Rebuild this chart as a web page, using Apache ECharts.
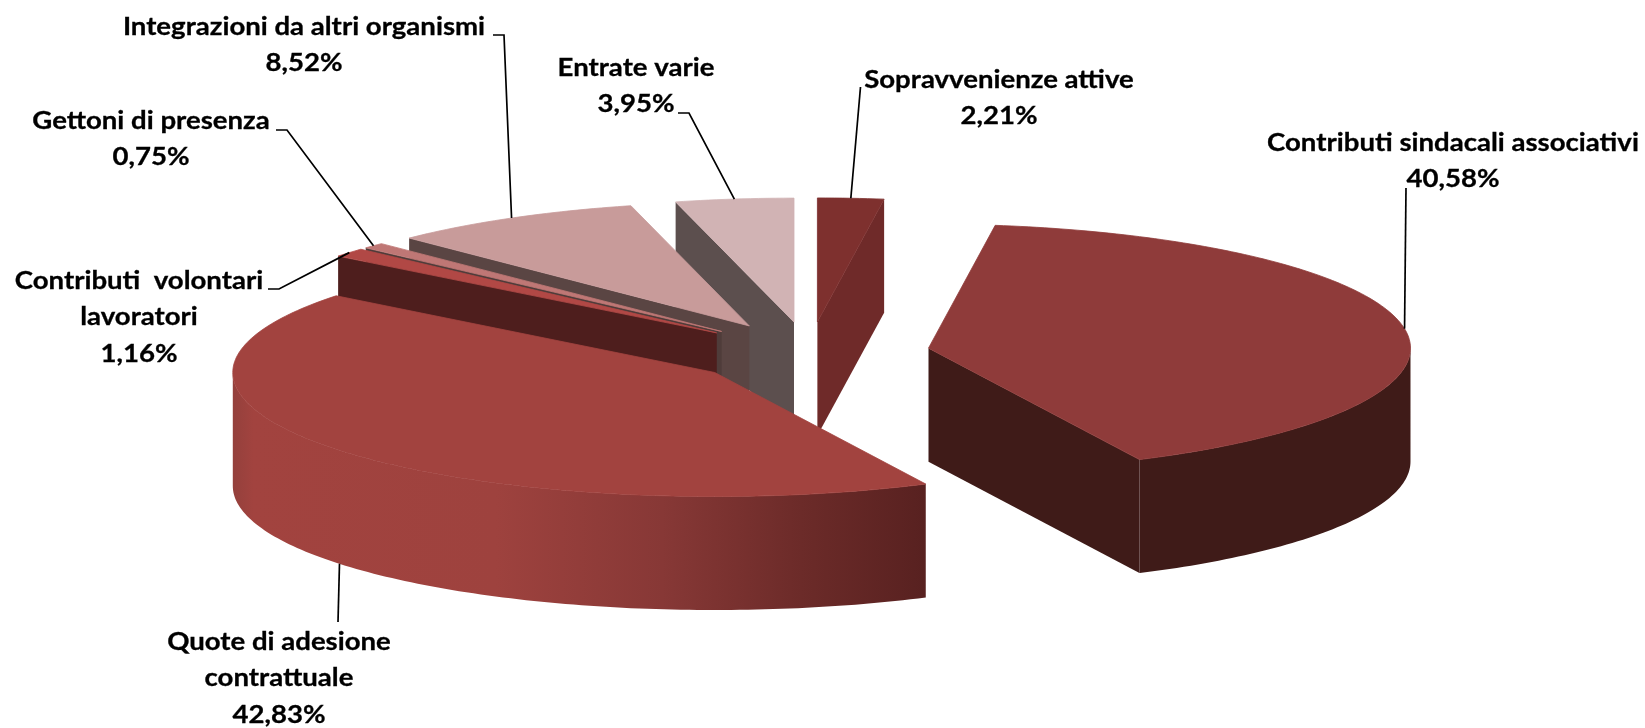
<!DOCTYPE html>
<html>
<head>
<meta charset="utf-8">
<style>html,body{margin:0;padding:0;background:#fff}#c{width:1645px;height:728px}</style>
<script src="https://cdn.jsdelivr.net/npm/echarts@6/dist/echarts.min.js"></script>
</head>
<body>
<div id="c"></div>
<script>
// Data, clockwise from 12 o'clock
const categories = ['Sopravvenienze attive','Contributi sindacali associativi','Quote di adesione\ncontrattuale','Contributi  volontari\nlavoratori','Gettoni di presenza','Integrazioni da altri organismi','Entrate varie'];
const values = [2.21, 40.58, 42.83, 1.16, 0.75, 8.52, 3.95];

// Styling
const topColors = ['#7E302E','#8F3B3A','#A2433F','#B14845','#BF7775','#C89B9A','#D1B3B4'];
const wallColors = ['#6F2A29','#3F1B18','#4E1E1D','#4E1E1D','#4F3C3A','#5A4543','#5C4F4E'];
const drawOrder = [1, 7, 6, 5, 4, 3, 2];
const quoteGradient = [[0,'#94403C'],[0.03,'#A2433F'],[0.38,'#9E423E'],[0.62,'#873836'],[0.82,'#6C2B29'],[1,'#582120']];

// Label layout: text centre x, first-line centre y, then leader bend points
const labelCenterX = [999, 1453, 279, 139, 151, 304, 636];
const labelFirstY = [80, 143, 642, 281, 121, 27, 68];
const leaderBends = [
  [[860.5,87]],
  [[1406,188]],
  [[338,622]],
  [[279,289],[268,289]],
  [[287,130],[276,130]],
  [[504,35],[493,35]],
  [[689,113],[678,113]]
];

// Projection of the exploded 3D pie
const CX = 809, CY = 353, RX = 482, RY = 124, DEPTH = 113.5, EXPLODE = 0.251;
const LINE_H = 36.5, TEXT_STRETCH = 1.125;
const total = values.reduce((a,b)=>a+b,0);
const rad = d => d*Math.PI/180;
const rim = (a,cx,cy) => [cx+Math.sin(rad(a))*RX, cy-Math.cos(rad(a))*RY];

function renderSlice(params, api){
  const i = params.dataIndex;
  let start = 0;
  for(let k=0;k<i;k++) start += values[k]/total*360;
  const end = start + api.value(1)/total*360;
  const mid = (start+end)/2;
  const cx = CX+Math.sin(rad(mid))*RX*EXPLODE;
  const cy = CY-Math.cos(rad(mid))*RY*EXPLODE;
  const z = drawOrder[i]*10;
  const children = [];
  const poly = (pts,fill,zz,stroke)=>children.push({type:'polygon',shape:{points:pts},
    style:{fill:fill,stroke:stroke||null,lineWidth:stroke?0.8:0},z2:zz});
  const down = p => [p[0],p[1]+DEPTH];

  // visible radial wall
  const wallAngle = end <= 180 ? end : (start >= 180 ? start : null);
  if(wallAngle !== null){
    const r = rim(wallAngle,cx,cy);
    poly([[cx,cy],r,down(r),[cx,cy+DEPTH]],wallColors[i],z);
  }
  // visible outer wall (front half of the ellipse)
  const a0 = Math.max(start,90), a1 = Math.min(end,270);
  if(a1 > a0){
    const upper=[], lower=[];
    for(let a=a0;a<a1;a+=1){ upper.push(rim(a,cx,cy)); }
    upper.push(rim(a1,cx,cy));
    for(let k=upper.length-1;k>=0;k--) lower.push(down(upper[k]));
    const fill = i===2
      ? {type:'linear',x:0,y:0,x2:1,y2:0,colorStops:quoteGradient.map(s=>({offset:s[0],color:s[1]}))}
      : wallColors[i];
    poly(upper.concat(lower),fill,z+1);
  }
  // top face
  const pts=[[cx,cy]];
  for(let a=start;a<end;a+=1) pts.push(rim(a,cx,cy));
  pts.push(rim(end,cx,cy));
  poly(pts,topColors[i],z+2,topColors[i]);

  // leader line, starting on the rim at the slice's mid angle
  let anchor = rim(mid,cx,cy);
  if(mid>90 && mid<270) anchor = down(anchor);
  const lineZ = mid>90 && mid<270 ? z+3 : 100;
  children.push({type:'polyline',shape:{points:[anchor].concat(leaderBends[i])},
    style:{stroke:'#000',lineWidth:1.7,fill:null},z2:lineZ});

  // label
  const pct = api.value(1).toFixed(2).replace('.',',');
  children.push({type:'text',z2:200,
    x:labelCenterX[i], y:labelFirstY[i]-LINE_H/2, scaleX:TEXT_STRETCH,
    style:{
      text:categories[i]+'\n'+pct+'%',
      x:0, y:0,
      align:'center', verticalAlign:'top',
      fontFamily:'Lato', fontWeight:'bold', fontSize:24.5, lineHeight:LINE_H, fill:'#000',
      stroke:'#000', lineWidth:0.3
    }});
  return {type:'group',children:children};
}

const chart = echarts.init(document.getElementById('c'),null,{renderer:'canvas'});
chart.setOption({
  animation:false,
  backgroundColor:'#fff',
  series:[{
    type:'custom',
    coordinateSystem:'none',
    renderItem:renderSlice,
    data:categories.map((n,i)=>({name:n,value:[i,values[i]]}))
  }]
});
</script>
</body>
</html>
